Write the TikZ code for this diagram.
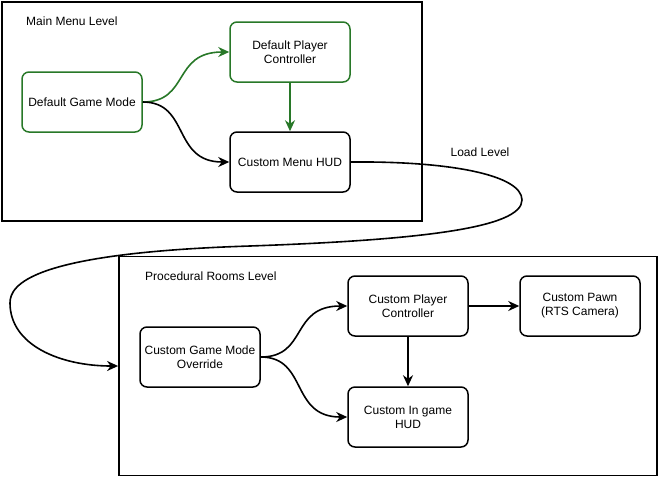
\documentclass[tikz,border=0pt]{standalone}
\usepackage{fontspec}
\setmainfont{Liberation Sans}
\usetikzlibrary{arrows.meta}
\definecolor{dgreen}{HTML}{287828}
\tikzset{
  box/.style={draw, rounded corners=7pt, line width=1.5pt, minimum width=120pt, minimum height=60pt, align=center, inner sep=0pt, font=\fontsize{12}{14}\selectfont},
  frame/.style={draw, line width=1.8pt, inner sep=0pt},
  lbl/.style={font=\fontsize{12}{14}\selectfont, inner sep=0pt},
  conn/.style={line width=1.6pt, -{Stealth[length=11pt,width=10pt,inset=3.5pt]}},
  gconn/.style={conn, draw=dgreen}
}
\begin{document}
\begin{tikzpicture}[x=1pt,y=-1pt]
\useasboundingbox (0,0) rectangle (660,477);
% frames
\node[frame, minimum width=420pt, minimum height=219pt] (lvl1) at (212,111.5) {};
\node[frame, minimum width=538pt, minimum height=219pt] (lvl2) at (388,366) {};
\node[lbl, anchor=west] (t1) at (26,21) {Main Menu Level};
\node[lbl, anchor=west] (t2) at (145,276) {Procedural Rooms Level};
\node[lbl] (ll) at (480,152) {Load Level};
% top nodes
\node[box, draw=dgreen] (dgm) at (82,102) {Default Game Mode};
\node[box, draw=dgreen] (dpc) at (290,52) {Default Player\\Controller};
\node[box] (hud) at (290,162) {Custom Menu HUD};
% bottom nodes
\node[box] (cgm) at (200,357) {Custom Game Mode\\Override};
\node[box] (cpc) at (408,306) {Custom Player\\Controller};
\node[box] (pawn) at (580,306) {Custom Pawn\\(RTS Camera)};
\node[box] (cih) at (408,417) {Custom In game\\HUD};
% top connectors
\draw[gconn] (dgm.east) .. controls (190,102) and (172,52) .. (dpc.west);
\draw[conn] (dgm.east) .. controls (190,102) and (172,162) .. (hud.west);
\draw[gconn] (dpc.south) -- (hud.north);
% load level loop
\draw[conn] (hud.east) .. controls (450,161) and (522,175) .. (522,200)
  .. controls (522,228) and (420,240) .. (250,246)
  .. controls (30,253) and (10,285) .. (10,303)
  .. controls (10,345) and (60,366) .. (lvl2.west);
% bottom connectors
\draw[conn] (cgm.east) .. controls (308,357) and (290,306) .. (cpc.west);
\draw[conn] (cgm.east) .. controls (308,357) and (290,417) .. (cih.west);
\draw[conn] (cpc.east) -- (pawn.west);
\draw[conn] (cpc.south) -- (cih.north);
\end{tikzpicture}
\end{document}
